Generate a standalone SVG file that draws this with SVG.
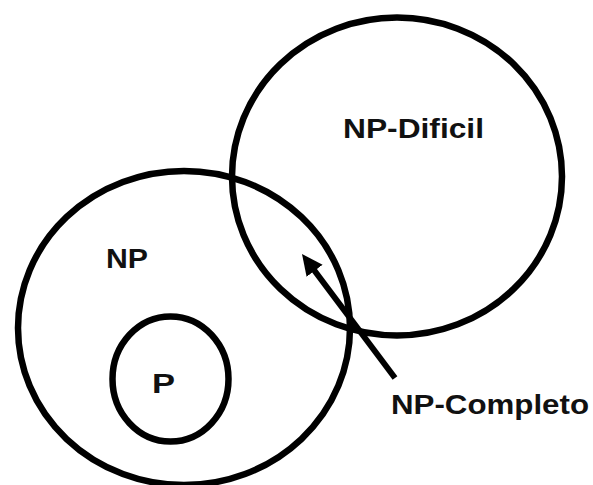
<svg xmlns="http://www.w3.org/2000/svg" width="593" height="485" viewBox="0 0 593 485">
  <style>
    .set { fill: none; stroke: #000; stroke-width: 6.5; }
    .lbl { font-family: "Liberation Sans", Arial, sans-serif; font-weight: bold; font-size: 27px; fill: #111; }
    .conn { stroke: #000; stroke-width: 6; fill: none; }
  </style>
  <defs>
    <marker id="head" markerUnits="userSpaceOnUse" markerWidth="24" markerHeight="22" refX="1" refY="10" orient="auto">
      <path d="M0,0 L21,10 L0,20 Z" fill="#000"/>
    </marker>
  </defs>
  <rect width="593" height="485" fill="#fff"/>

  <!-- NP-hard set -->
  <g id="np-hard">
    <ellipse class="set" cx="397" cy="176.5" rx="165" ry="159"/>
    <text class="lbl" x="343" y="138" textLength="141" lengthAdjust="spacingAndGlyphs">NP-Dificil</text>
  </g>

  <!-- NP set -->
  <g id="np">
    <ellipse class="set" cx="184" cy="328" rx="166" ry="157"/>
    <text class="lbl" x="106" y="268" textLength="42" lengthAdjust="spacingAndGlyphs">NP</text>
  </g>

  <!-- P set inside NP -->
  <g id="p">
    <ellipse class="set" cx="170.5" cy="379" rx="58" ry="62.5"/>
    <text class="lbl" x="152" y="393" textLength="23" lengthAdjust="spacingAndGlyphs">P</text>
  </g>

  <!-- NP-complete label -->
  <g id="np-complete">
    <text class="lbl" x="391" y="413.5" textLength="198" lengthAdjust="spacingAndGlyphs">NP-Completo</text>
  </g>

  <!-- pointer from the label into the intersection -->
  <g id="connectors">
    <line class="conn" x1="395" y1="378" x2="314" y2="270" marker-end="url(#head)"/>
  </g>
</svg>
